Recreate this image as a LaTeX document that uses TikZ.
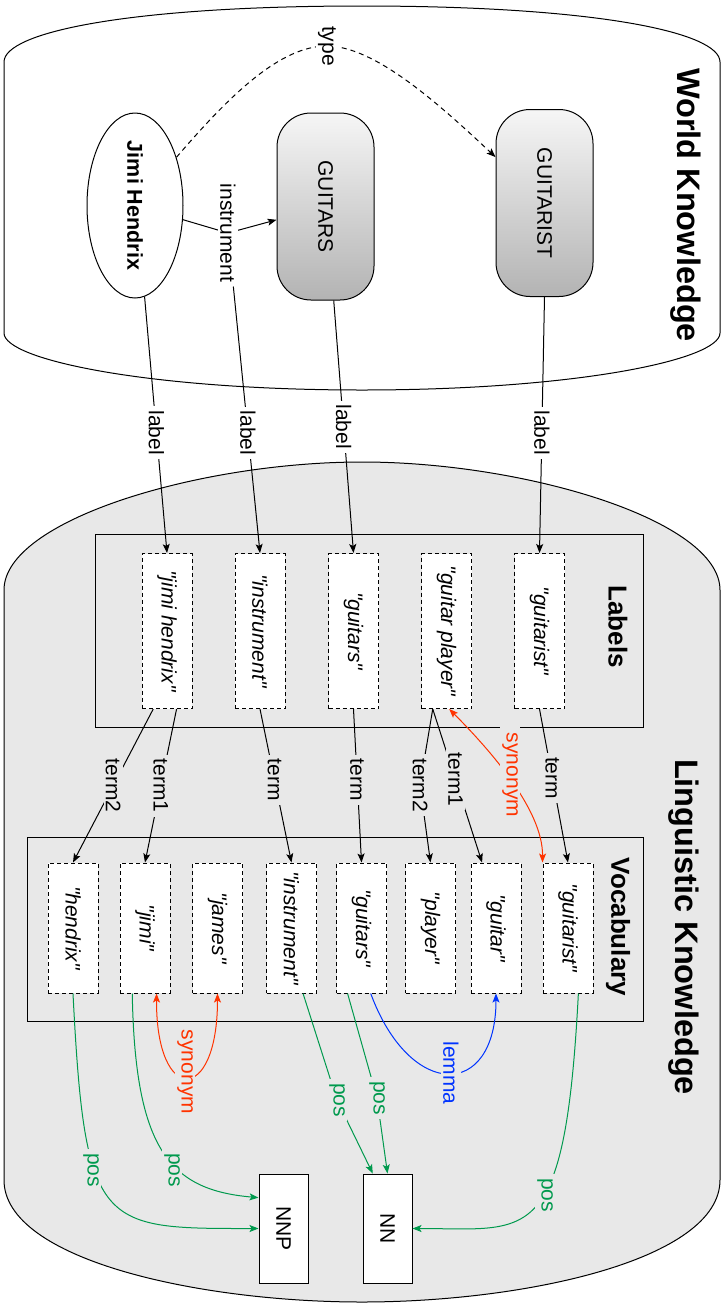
\documentclass[tikz,border=0pt]{standalone}
\usepackage{fontspec}
\setmainfont{Liberation Sans}[Ligatures=TeXOff]
\usepackage{graphicx}
\usetikzlibrary{arrows.meta,shapes.geometric}
\definecolor{lkgray}{HTML}{E8E8E8}
\definecolor{posgreen}{HTML}{00994D}
\definecolor{synred}{HTML}{FF3300}
\definecolor{lemblue}{HTML}{0033FF}
\definecolor{gradtop}{HTML}{F6F6F6}
\definecolor{gradbot}{HTML}{B3B3B3}
\newcommand{\rottext}[1]{\rotatebox{-90}{#1}}
\begin{document}
\begin{tikzpicture}[x=1pt,y=-1pt,line width=1pt,
  >={Stealth[length=9pt,width=7pt,inset=2pt]},
  every node/.style={font=\fontsize{21}{25}\selectfont,inner sep=0pt},
  shapetitle/.style={font=\fontsize{32.5}{39}\selectfont\bfseries},
  boxtitle/.style={font=\fontsize{26}{31}\selectfont\bfseries},
  lbox/.style={draw,dash pattern=on 4pt off 3pt,fill=white,minimum width=50,minimum height=155,font=\fontsize{21}{25}\selectfont\itshape},
  vbox/.style={lbox,minimum height=130},
  tagbox/.style={draw,fill=white,minimum width=49,minimum height=109},
  entity/.style={ellipse,draw,fill=white,minimum width=96,minimum height=185,font=\fontsize{21.5}{25}\selectfont\bfseries},
  concept/.style={rectangle,draw,rounded corners=34pt,top color=gradtop,bottom color=gradbot,minimum width=97,minimum height=187},
  wlab/.style={fill=white,inner xsep=2pt,inner ysep=4pt},
  glab/.style={fill=lkgray,inner xsep=2pt,inner ysep=4pt},
  container/.style={draw,line width=1pt}
]
\useasboundingbox (0,0) rectangle (724,1310);

% outer shapes
\draw[fill=white] (4,62) .. controls (4,32) and (130,6) .. (362,6) .. controls (594,6) and (720,32) .. (720,62)
  -- (720,333) .. controls (720,360) and (574,390) .. (362,390) .. controls (150,390) and (4,360) .. (4,333) -- cycle;
\draw[fill=lkgray] (4,590) .. controls (4,520) and (200,462) .. (362,462) .. controls (524,462) and (720,520) .. (720,590)
  -- (720,1180) .. controls (720,1260) and (524,1302) .. (362,1302) .. controls (200,1302) and (4,1260) .. (4,1180) -- cycle;

% containers
\draw[container] (95,534) rectangle (643,727);
\draw[container] (27,837) rectangle (643,1021);

% titles
\node[shapetitle] (wk) at (686,205) {\rottext{World Knowledge}};
\node[shapetitle] (lk) at (684,927) {\rottext{Linguistic Knowledge}};
\node[boxtitle] (lt) at (618,626.5) {\rottext{Labels}};
\node[boxtitle] (vt) at (618,927) {\rottext{Vocabulary}};

% world nodes
\node[entity] (jh) at (135,205.5) {\rottext{Jimi Hendrix}};
\node[concept] (guitars) at (325.5,206.5) {\rottext{GUITARS}};
\node[concept] (guitarist) at (544.5,203) {\rottext{GUITARIST}};

% label boxes
\node[lbox] (l1) at (167,631) {\rottext{"jimi hendrix"}};
\node[lbox] (l2) at (260,631) {\rottext{"instrument"}};
\node[lbox] (l3) at (353.5,631) {\rottext{"guitars"}};
\node[lbox] (l4) at (446.5,631) {\rottext{"guitar player"}};
\node[lbox] (l5) at (539.5,631) {\rottext{"guitarist"}};

% vocabulary boxes
\node[vbox] (v1) at (73,928) {\rottext{"hendrix"}};
\node[vbox] (v2) at (145,928) {\rottext{"jimi"}};
\node[vbox] (v3) at (217.5,928) {\rottext{"james"}};
\node[vbox] (v4) at (291.5,928) {\rottext{"instrument"}};
\node[vbox] (v5) at (361.5,928) {\rottext{"guitars"}};
\node[vbox] (v6) at (430.5,928) {\rottext{"player"}};
\node[vbox] (v7) at (496,928) {\rottext{"guitar"}};
\node[vbox] (v8) at (568,928) {\rottext{"guitarist"}};

% tags
\node[tagbox] (nnp) at (283.5,1228.5) {\rottext{NNP}};
\node[tagbox] (nn) at (387.5,1228.5) {\rottext{NN}};

% world connectors
\coordinate (ipos) at (228,233);
\draw[->] (jh) -- (ipos) -- (guitars);
\node[wlab] (il) at (ipos) {\rottext{instrument}};
\coordinate (tpos) at (327,46);
\draw[->,dash pattern=on 5pt off 4pt] (jh) .. controls (230,95) and (280,46) .. (tpos) .. controls (375,46) and (440,105) .. (guitarist);
\node[wlab] (tl) at (tpos) {\rottext{type}};

% label connectors
\draw[->] (jh.-84) -- node[wlab,pos=0.53] {\rottext{label}} (l1.north);
\draw[->] (il) -- node[wlab,pos=0.55] {\rottext{label}} (l2.north);
\draw[->] (guitars.-85) -- node[wlab,pos=0.5] {\rottext{label}} (l3.north);
\draw[->] (guitarist.south) -- node[wlab,pos=0.53] {\rottext{label}} (l5.north);

% term connectors
\draw[->] (l1.-100) -- node[glab,pos=0.5] {\rottext{term2}} (v1.north);
\draw[->] (l1.-83) -- node[glab,pos=0.5] {\rottext{term1}} (v2.north);
\draw[->] (l2.south) -- node[glab,pos=0.46] {\rottext{term}} (v4.north);
\draw[->] (l3.south) -- node[glab,pos=0.46] {\rottext{term}} (v5.north);
\coordinate (t2pos) at (420,785);
\draw[->] (l4.-100) -- (t2pos) -- (v6.north);
\node[glab] (t2l) at (t2pos) {\rottext{term2}};
\draw[->] (l4.-100) -- node[glab,pos=0.46] {\rottext{term1}} (v7.102);
\draw[->] (l5.south) -- node[glab,pos=0.45] {\rottext{term}} (v8.north);

% synonym / lemma
\draw[<->,synred] (l4.-88) .. controls (490,750) and (543,810) .. (v8.north west);
\node[glab,inner ysep=7pt,text=synred] (s1) at (510,775) {\rottext{synonym}};
\draw[<->,synred] (v2.-80) .. controls (156,1105) and (217.5,1105) .. (v3.south);
\node[glab,text=synred] (s2) at (185,1072) {\rottext{synonym}};
\draw[->,lemblue] (v5.-82) .. controls (410,1100) and (496,1100) .. (v7.south);
\node[glab,text=lemblue] (lm) at (451,1073) {\rottext{lemma}};

% pos connectors
\draw[->,posgreen] (v1.south) .. controls (85,1230) and (100,1228.5) .. (nnp.west);
\node[glab,text=posgreen] (p1) at (91,1170) {\rottext{pos}};
\draw[->,posgreen] (v2.-101) .. controls (135,1150) and (170,1190) .. (nnp.129);
\node[glab,text=posgreen] (p2) at (172,1170) {\rottext{pos}};
\coordinate (p3pos) at (337,1100);
\draw[->,posgreen] (v4.-80) -- (p3pos) -- (nn.105);
\node[glab,text=posgreen] (p3) at (p3pos) {\rottext{pos}};
\coordinate (p4pos) at (377,1098);
\draw[->,posgreen] (v5.-102) -- (p4pos) -- (nn.north);
\node[glab,text=posgreen] (p4) at (p4pos) {\rottext{pos}};
\draw[->,posgreen] (v8.-81) .. controls (565,1250) and (530,1228.5) .. (nn.east);
\node[glab,text=posgreen] (p5) at (545,1195) {\rottext{pos}};
\end{tikzpicture}
\end{document}
